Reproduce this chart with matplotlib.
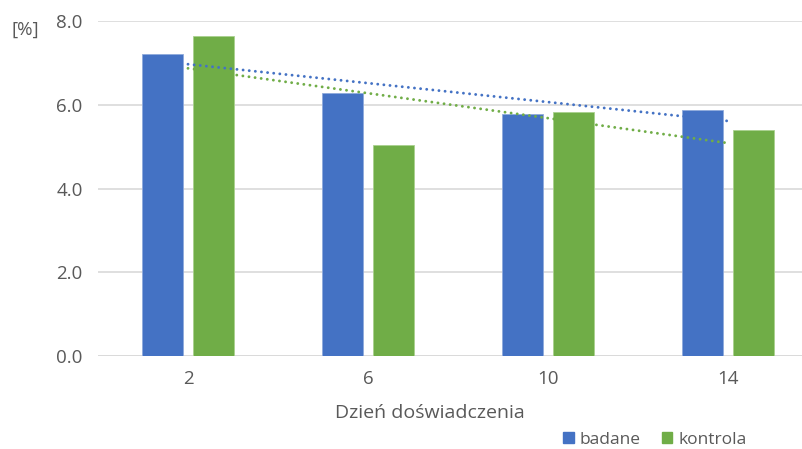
import numpy as np
from matplotlib import pyplot as plt
from matplotlib.patches import Patch

days = ["2", "6", "10", "14"]
badane = [7.22, 6.28, 5.78, 5.88]
kontrola = [7.65, 5.03, 5.83, 5.40]

blue = "#4472C4"
green = "#70AD47"
text_color = "#595959"
grid_color = "#D9D9D9"

plt.rcParams['font.family'] = ['Open Sans', 'DejaVu Sans']

fig = plt.figure(figsize=(8.03, 4.49), dpi=100)
ax = fig.add_axes([98 / 803, 93 / 449, 720 / 803, 335 / 449])

x = np.arange(len(days))
width = 0.228
offset = 0.1417

ax.bar(x - offset, badane, width, color=blue, edgecolor="#8FAADC", linewidth=0.6, zorder=2)
ax.bar(x + offset, kontrola, width, color=green, edgecolor="#A9D18E", linewidth=0.6, zorder=2)

# linear trend over the category index, like a spreadsheet trendline
for values, color in [(badane, blue), (kontrola, green)]:
    slope, intercept = np.polyfit(x, values, 1)
    ax.plot(x, slope * x + intercept, color=color, linewidth=2.1,
            linestyle=(0, (0.01, 2.1)), dash_capstyle="round", zorder=3)

ax.set_xlim(-0.5, len(days) - 0.5)
ax.set_ylim(0, 8)
ax.set_yticks([0, 2, 4, 6, 8])
ax.set_yticklabels([f"{v:.1f}" for v in [0, 2, 4, 6, 8]])
ax.set_xticks(x)
ax.set_xticklabels(days)
ax.yaxis.grid(True, color=grid_color, linewidth=1.2, zorder=0)
ax.set_axisbelow(True)
for side in ["top", "right", "left", "bottom"]:
    ax.spines[side].set_visible(False)
ax.axhline(0, color=grid_color, linewidth=1.2, zorder=1)
ax.tick_params(axis="both", length=0, labelsize=13.5, colors=text_color)
ax.tick_params(axis="y", pad=11)
ax.tick_params(axis="x", pad=10)

fig.text(430 / 803, 1 - 418 / 449, "Dzień doświadczenia", fontsize=14, color=text_color,
         ha="center", va="baseline")
fig.text(12 / 803, 1 - 30 / 449, "[%]", fontsize=13.5, color=text_color, va="center", ha="left")

handles = [Patch(color=blue), Patch(color=green)]
fig.legend(handles, ["badane", "kontrola"], loc="center", bbox_to_anchor=(655 / 803, 1 - 440 / 449),
           ncol=2, frameon=False, fontsize=12.5, labelcolor=text_color,
           handlelength=0.6, handleheight=0.6, handletextpad=0.35, columnspacing=1.2)

fig.savefig("out.png", dpi=100)
